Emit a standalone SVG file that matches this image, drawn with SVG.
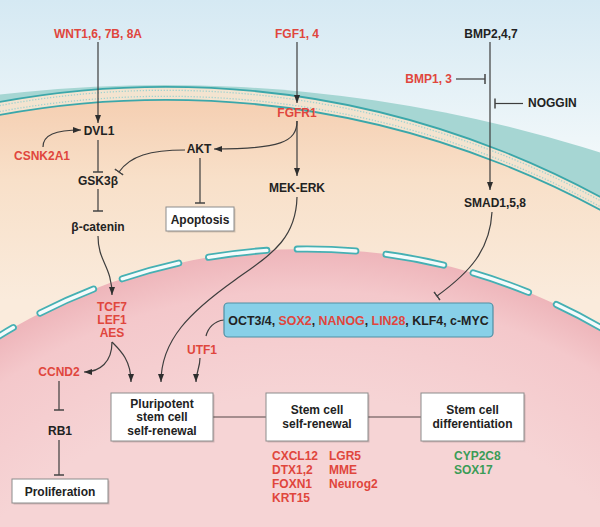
<svg xmlns="http://www.w3.org/2000/svg" width="600" height="527" viewBox="0 0 600 527">
<defs>
<style>
.lbl{font-family:"Liberation Sans",Arial,sans-serif;font-weight:bold;font-size:12px;text-anchor:middle}
.st{text-anchor:start}
.en{text-anchor:end}
.red{fill:#e0463d}
.blk{fill:#222}
.grn{fill:#3b9c57}
.box{fill:#fff;stroke:#8c8c8c;stroke-width:1}
.sh{fill:#000;opacity:0.15}
.con{fill:none;stroke:#3d3d3d;stroke-width:1.2}
.arr{marker-end:url(#arr)}
.tee{marker-end:url(#tee)}
.link{fill:none;stroke:#8a7676;stroke-width:1.5}
.mem{fill:none;stroke:#3ba7aa;stroke-width:1.8}
.dots{fill:none;stroke:#a3d2cf;stroke-width:1.3;stroke-dasharray:1.3 1.7}
</style>
<linearGradient id="sky" x1="0" y1="0" x2="0" y2="160" gradientUnits="userSpaceOnUse">
<stop offset="0" stop-color="#d5e9f3"/><stop offset="1" stop-color="#f2f8fa"/>
</linearGradient>
<linearGradient id="cyto" x1="0" y1="100" x2="0" y2="300" gradientUnits="userSpaceOnUse">
<stop offset="0" stop-color="#f5cfb2"/><stop offset="0.4" stop-color="#f8e0c9"/><stop offset="1" stop-color="#faebdc"/>
</linearGradient>
<radialGradient id="nuc" cx="307" cy="837" r="588" gradientUnits="userSpaceOnUse">
<stop offset="0.75" stop-color="#f6d4d5"/><stop offset="0.93" stop-color="#f4c8cb"/><stop offset="1" stop-color="#eeb5ba"/>
</radialGradient>
<marker id="arr" viewBox="0 0 8 6" refX="8" refY="3" markerWidth="8" markerHeight="6" markerUnits="userSpaceOnUse" orient="auto">
<path d="M0,0 L8,3 L0,6 z" fill="#2e2e2e"/>
</marker>
<marker id="tee" viewBox="-1 -6 2 12" refX="0" refY="0" markerWidth="2" markerHeight="12" markerUnits="userSpaceOnUse" orient="auto">
<path d="M0,-5 V5" stroke="#444" stroke-width="1.5"/>
</marker>
</defs>

<g id="background">
<rect x="0" y="0" width="600" height="527" fill="url(#sky)"/>
<circle cx="165" cy="1520" r="1435" fill="#a6d6d3"/>
<circle cx="165.7" cy="997.7" r="910.9" fill="#f3e4d0"/>
<circle class="dots" cx="165.7" cy="1001.2" r="910.9"/>
<circle class="dots" cx="165.7" cy="1007.2" r="910.9"/>
<circle cx="165.7" cy="1010.7" r="910.9" fill="url(#cyto)"/>
<circle cx="165.7" cy="997.7" r="910.9" class="mem"/>
<circle cx="165.7" cy="1010.7" r="910.9" class="mem"/>
<circle cx="307" cy="837" r="588" fill="url(#nuc)"/>
<path d="M-70.96,386.56 A588,588 0 0 1 684.96,386.56" fill="none" stroke="#45b0b3" stroke-width="7" stroke-linecap="round" stroke-dasharray="58.7 30.37" stroke-dashoffset="44.74"/>
<path d="M-70.96,386.56 A588,588 0 0 1 684.96,386.56" fill="none" stroke="#f4fbfb" stroke-width="3.4" stroke-linecap="round" stroke-dasharray="58.7 30.37" stroke-dashoffset="44.74"/>
</g>

<g id="connectors">
<path class="con arr" d="M98,42 V123"/>
<path class="con arr" d="M43,147 C43,135 55,130 81,130"/>
<path class="con tee" d="M98,140 V172"/>
<path class="con tee" d="M185,150 C150,150 130,156 119,172"/>
<path class="con tee" d="M98,189 V211"/>
<path class="con arr" d="M98,236 C98,262 112,266 112,295"/>
<path class="con arr" d="M297,42 V103"/>
<path class="con arr" d="M297,121 C297,142 280,149 214,149"/>
<path class="con arr" d="M297,121 V176"/>
<path class="con tee" d="M200,158 V203"/>
<path class="con arr" d="M297,197 C296,240 270,255 235,280 C190,312 161,340 161,382"/>
<path class="con arr" d="M490,42 V190"/>
<path class="con tee" d="M456,79 H485"/>
<path class="con tee" d="M523,103.5 H495"/>
<path class="con tee" d="M492,212 C490,250 470,272 437,296"/>
<path class="con arr" d="M112,342 C112,362 100,372 84,372"/>
<path class="con arr" d="M112,342 C120,350 131,360 131,382"/>
<path class="con" d="M224,320 C214,321 208,328 206,336"/>
<path class="con arr" d="M200,358 C200,368 196,372 196,382"/>
<path class="con tee" d="M59,381 V410"/>
<path class="con tee" d="M59,440 V475"/>
<path class="link" d="M213,417 H266"/>
<path class="link" d="M368,417 H421"/>
</g>

<g id="wnt"><text class="lbl red" x="98" y="38">WNT1,6, 7B, 8A</text></g>
<g id="fgf"><text class="lbl red" x="297" y="38">FGF1, 4</text></g>
<g id="bmp247"><text class="lbl blk" x="491" y="38">BMP2,4,7</text></g>
<g id="bmp13"><text class="lbl red en" x="452" y="83">BMP1, 3</text></g>
<g id="noggin"><text class="lbl blk st" x="528" y="107">NOGGIN</text></g>
<g id="fgfr1"><text class="lbl red" x="297" y="117">FGFR1</text></g>
<g id="dvl1"><text class="lbl blk" x="99" y="135">DVL1</text></g>
<g id="csnk2a1"><text class="lbl red" x="42" y="160">CSNK2A1</text></g>
<g id="akt"><text class="lbl blk" x="199" y="153">AKT</text></g>
<g id="gsk3b"><text class="lbl blk" x="98" y="185">GSK3β</text></g>
<g id="mekerk"><text class="lbl blk" x="297" y="192">MEK-ERK</text></g>
<g id="smad"><text class="lbl blk" x="495" y="207">SMAD1,5,8</text></g>
<g id="bcatenin"><text class="lbl blk" x="98" y="231">β-catenin</text></g>
<g id="apoptosis">
<rect class="sh" x="167.5" y="208.5" width="68" height="24"/>
<rect class="box" x="166" y="207" width="68" height="24"/>
<text class="lbl blk" x="200" y="223.5">Apoptosis</text>
</g>
<g id="tcf">
<text class="lbl red" x="112" y="311">TCF7</text>
<text class="lbl red" x="112" y="324">LEF1</text>
<text class="lbl red" x="112" y="337">AES</text>
</g>
<g id="oct">
<rect x="224" y="303" width="269" height="34" rx="4" fill="#88d0e8" stroke="#4f8fa3" stroke-width="1.2"/>
<text class="lbl blk" x="358.5" y="325" style="font-size:12.4px"><tspan>OCT3/4, </tspan><tspan class="red">SOX2</tspan><tspan>, </tspan><tspan class="red">NANOG</tspan><tspan>, </tspan><tspan class="red">LIN28</tspan><tspan>, KLF4, c-MYC</tspan></text>
</g>
<g id="utf1"><text class="lbl red" x="202" y="354">UTF1</text></g>
<g id="ccnd2"><text class="lbl red" x="59" y="376">CCND2</text></g>
<g id="rb1"><text class="lbl blk" x="60" y="435">RB1</text></g>
<g id="proliferation">
<rect class="sh" x="13.5" y="480.5" width="96" height="24"/>
<rect class="box" x="12" y="479" width="96" height="24"/>
<text class="lbl blk" x="60" y="495.5">Proliferation</text>
</g>
<g id="pluripotent">
<rect class="sh" x="112.5" y="394.5" width="102" height="48"/>
<rect class="box" x="111" y="393" width="102" height="48"/>
<text class="lbl blk" x="162" y="407.5">Pluripotent</text>
<text class="lbl blk" x="162" y="421">stem cell</text>
<text class="lbl blk" x="162" y="434.5">self-renewal</text>
</g>
<g id="selfrenewal">
<rect class="sh" x="267.5" y="394.5" width="102" height="48"/>
<rect class="box" x="266" y="393" width="102" height="48"/>
<text class="lbl blk" x="317" y="414">Stem cell</text>
<text class="lbl blk" x="317" y="428">self-renewal</text>
</g>
<g id="differentiation">
<rect class="sh" x="422.5" y="394.5" width="103" height="48"/>
<rect class="box" x="421" y="393" width="103" height="48"/>
<text class="lbl blk" x="472.5" y="414">Stem cell</text>
<text class="lbl blk" x="472.5" y="428">differentiation</text>
</g>
<g id="selfrenewal-genes">
<text class="lbl red st" x="272" y="459.5">CXCL12</text>
<text class="lbl red st" x="272" y="473.5">DTX1,2</text>
<text class="lbl red st" x="272" y="488">FOXN1</text>
<text class="lbl red st" x="272" y="502">KRT15</text>
<text class="lbl red st" x="329" y="459.5">LGR5</text>
<text class="lbl red st" x="329" y="473.5">MME</text>
<text class="lbl red st" x="329" y="488">Neurog2</text>
</g>
<g id="differentiation-genes">
<text class="lbl grn st" x="454" y="459.5">CYP2C8</text>
<text class="lbl grn st" x="454" y="473.5">SOX17</text>
</g>
</svg>
